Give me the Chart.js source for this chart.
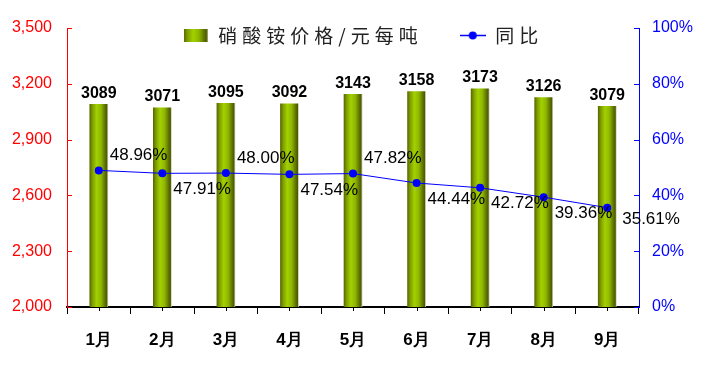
<!DOCTYPE html>
<html>
<head>
<meta charset="utf-8">
<script src="https://cdn.jsdelivr.net/npm/chart.js@4/dist/chart.umd.min.js"></script>
<style>
  html, body { margin: 0; padding: 0; background: #fff; }
</style>
</head>
<body>
<canvas id="chart" width="706" height="372"></canvas>
<script>
const months = ['1月', '2月', '3月', '4月', '5月', '6月', '7月', '8月', '9月'];
const prices = [3089, 3071, 3095, 3092, 3143, 3158, 3173, 3126, 3079];
const yoy = [48.96, 47.91, 48.00, 47.54, 47.82, 44.44, 42.72, 39.36, 35.61];
// where each 同比 label sits relative to its point
const yoySide = ['above', 'below', 'above', 'below', 'above', 'below', 'below', 'below', 'right'];

const BAR_W = 18;
const ARIAL = 'Arial, "Liberation Sans", sans-serif';

// bar fill: horizontal olive gradient
const barGradient = (ctx, x0, x1) => {
  let g = ctx.createLinearGradient(x0, 0, x1, 0);
  g.addColorStop(0, '#5a6900');
  g.addColorStop(0.15, '#7f9e00');
  g.addColorStop(0.38, '#a2d100');
  g.addColorStop(0.62, '#8fb800');
  g.addColorStop(0.88, '#586a00');
  g.addColorStop(0.95, '#4d5b00');
  g.addColorStop(1, '#c4c8a8');
  return g;
};

// legend swatches
const barSwatch = (() => {
  let c = document.createElement('canvas');
  c.width = 24; c.height = 13;
  let x = c.getContext('2d');
  x.fillStyle = barGradient(x, 0, 24);
  x.fillRect(0, 0, 24, 13);
  return c;
})();

const lineSwatch = (() => {
  let c = document.createElement('canvas');
  c.width = 26; c.height = 9;
  let x = c.getContext('2d');
  x.strokeStyle = '#0000ff';
  x.lineWidth = 1.5;
  x.beginPath(); x.moveTo(0, 4.5); x.lineTo(26, 4.5); x.stroke();
  x.fillStyle = '#0000ff';
  x.beginPath(); x.arc(13, 4.5, 4, 0, Math.PI * 2); x.fill();
  return c;
})();

// legend: letter spaced text, overlapping the top of the plot like the original
const legendTweak = {
  id: 'legendTweak',
  afterInit(chart) {
    const lg = chart.legend;
    const fit = lg.fit.bind(lg);
    lg.fit = function () {
      chart.ctx.save();
      chart.ctx.letterSpacing = '5px';
      fit();
      chart.ctx.restore();
      this.height = 28;
    };
    lg.draw = function () {
      const ctx = chart.ctx;
      ctx.save();
      ctx.letterSpacing = '5px';
      ctx.translate(10, -11);
      this._draw();
      ctx.restore();
    };
  }
};

const valueLabels = {
  id: 'valueLabels',
  afterDatasetsDraw(chart) {
    const ctx = chart.ctx;
    ctx.save();
    ctx.fillStyle = '#000';
    ctx.textBaseline = 'middle';

    ctx.font = 'bold 16px ' + ARIAL;
    ctx.textAlign = 'center';
    chart.getDatasetMeta(0).data.forEach((bar, i) => {
      ctx.fillText(String(prices[i]), bar.x, bar.y - 11);
    });

    ctx.font = '17px ' + ARIAL;
    ctx.textAlign = 'left';
    chart.getDatasetMeta(1).data.forEach((pt, i) => {
      let side = yoySide[i];
      let dx = side === 'right' ? 15 : 11;
      let dy = side === 'above' ? -15 : side === 'below' ? 16 : 12;
      ctx.fillText(yoy[i].toFixed(2) + '%', pt.x + dx, pt.y + dy);
    });
    ctx.restore();
  }
};

// small inward tick marks on the value axes, centre ticks on the category axis
const axisTicks = {
  id: 'axisTicks',
  afterDraw(chart) {
    const ctx = chart.ctx;
    const { left, right, bottom } = chart.chartArea;
    ctx.save();
    ctx.lineWidth = 1;

    ctx.strokeStyle = '#ff0000';
    chart.scales.y.ticks.forEach(t => {
      let y = Math.round(chart.scales.y.getPixelForValue(t.value)) + 0.5;
      ctx.beginPath(); ctx.moveTo(left, y); ctx.lineTo(left + 5, y); ctx.stroke();
    });

    ctx.strokeStyle = '#0000ff';
    chart.scales.y2.ticks.forEach(t => {
      let y = Math.round(chart.scales.y2.getPixelForValue(t.value)) + 0.5;
      ctx.beginPath(); ctx.moveTo(right - 5, y); ctx.lineTo(right, y); ctx.stroke();
    });

    ctx.strokeStyle = '#000';
    months.forEach((m, i) => {
      let x = Math.round(chart.scales.x.getPixelForValue(i)) + 0.5;
      ctx.beginPath(); ctx.moveTo(x, bottom); ctx.lineTo(x, bottom + 4); ctx.stroke();
    });
    ctx.restore();
  }
};

new Chart(document.getElementById('chart'), {
  data: {
    labels: months,
    datasets: [
      {
        type: 'bar',
        label: '硝酸铵价格/元每吨',
        data: prices,
        yAxisID: 'y',
        order: 2,
        barThickness: BAR_W,
        backgroundColor: (c) => {
          const chart = c.chart;
          if (!chart.chartArea || c.dataIndex === undefined) return '#8fb800';
          let x = chart.scales.x.getPixelForValue(c.dataIndex);
          return barGradient(chart.ctx, x - BAR_W / 2, x + BAR_W / 2);
        },
        borderWidth: 0
      },
      {
        type: 'line',
        label: '同比',
        data: yoy,
        yAxisID: 'y2',
        order: 1,
        borderColor: '#0000ff',
        borderWidth: 1,
        pointRadius: 4,
        pointBackgroundColor: '#0000ff',
        pointBorderColor: '#0000ff',
        pointBorderWidth: 0,
        tension: 0
      }
    ]
  },
  options: {
    responsive: false,
    animation: false,
    layout: { padding: 0 },
    plugins: {
      tooltip: { enabled: false },
      legend: {
        position: 'top',
        labels: {
          usePointStyle: true,
          pointStyleWidth: 26,
          padding: 37,
          color: '#222',
          font: { family: '"Noto Sans CJK SC", sans-serif', size: 19 },
          generateLabels: (chart) => chart.data.datasets.map((ds, i) => ({
            text: ds.label,
            datasetIndex: i,
            pointStyle: i === 0 ? barSwatch : lineSwatch,
            fontColor: '#222',
            lineWidth: 0,
            hidden: false
          }))
        }
      }
    },
    scales: {
      x: {
        grid: { display: true, drawOnChartArea: false, offset: true, tickLength: 7, color: '#000' },
        border: { color: '#000', width: 2 },
        ticks: {
          color: '#000',
          padding: 16,
          font: { family: ARIAL, size: 17, weight: 'bold' }
        },
        afterFit: (s) => { s.height = 65; }
      },
      y: {
        position: 'left',
        min: 2000,
        max: 3500,
        grid: { display: false, drawTicks: false },
        border: { color: '#ff0000', width: 1 },
        ticks: {
          stepSize: 300,
          color: '#ff0000',
          padding: 15,
          font: { family: ARIAL, size: 16 },
          callback: (v) => v.toLocaleString('en-US')
        },
        afterFit: (s) => { s.width = 67; }
      },
      y2: {
        position: 'right',
        min: 0,
        max: 100,
        grid: { display: false, drawTicks: false },
        border: { color: '#0000ff', width: 1 },
        ticks: {
          stepSize: 20,
          color: '#0000ff',
          padding: 13,
          font: { family: ARIAL, size: 16 },
          callback: (v) => v + '%'
        },
        afterFit: (s) => { s.width = 67; }
      }
    }
  },
  plugins: [legendTweak, valueLabels, axisTicks]
});
</script>
</body>
</html>
